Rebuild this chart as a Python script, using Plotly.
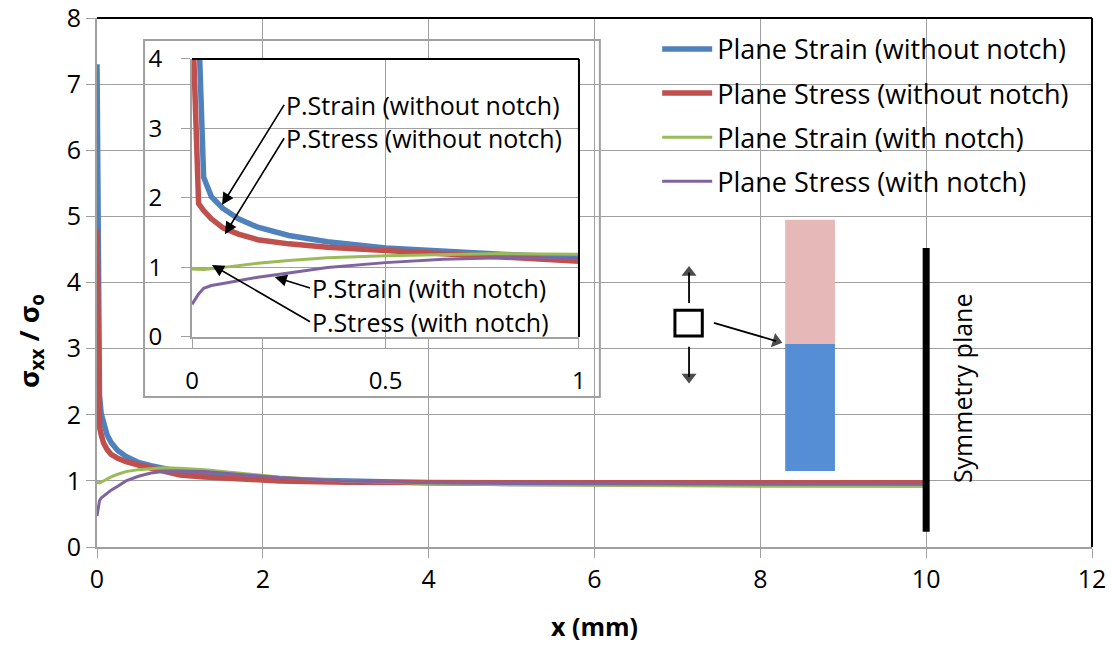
import plotly.graph_objects as go

# ---- data ----
x_mm = [0, 0.017, 0.03, 0.05, 0.08, 0.12, 0.17, 0.25, 0.35, 0.5, 0.65, 0.8,
        1.0, 1.3, 1.7, 2.2, 3, 4, 5, 6.5, 8, 10]
strain_no_notch = [7.3, 4.5, 2.3, 2.02, 1.85, 1.70, 1.58, 1.46, 1.37, 1.28, 1.23, 1.19,
                   1.14, 1.10, 1.05, 1.02, 0.99, 0.97, 0.96, 0.95, 0.94, 0.94]
stress_no_notch = [4.8, 1.92, 1.82, 1.70, 1.57, 1.48, 1.40, 1.34, 1.29, 1.24, 1.20, 1.15,
                   1.09, 1.06, 1.03, 1.00, 0.98, 0.97, 0.97, 0.97, 0.97, 0.97]
strain_notch = [0.98, 0.97, 0.97, 0.98, 1.00, 1.03, 1.06, 1.10, 1.14, 1.17, 1.19, 1.20,
                1.19, 1.17, 1.12, 1.06, 1.00, 0.96, 0.94, 0.93, 0.92, 0.92]
stress_notch = [0.47, 0.62, 0.70, 0.74, 0.77, 0.81, 0.86, 0.92, 1.00, 1.07, 1.12, 1.14,
                1.15, 1.14, 1.10, 1.05, 1.00, 0.97, 0.96, 0.95, 0.95, 0.95]

series_names = ["Plane Strain (without notch)", "Plane Stress (without notch)",
                "Plane Strain (with notch)", "Plane Stress (with notch)"]
series_values = [strain_no_notch, stress_no_notch, strain_notch, stress_notch]
series_colors = ["#4F81BD", "#C0504D", "#9BBB59", "#8064A2"]
series_widths = [5.5, 5.5, 3, 3]

inset_labels = ["P.Strain (without notch)", "P.Stress (without notch)",
                "P.Strain (with notch)", "P.Stress (with notch)"]

x_ticks = [0, 2, 4, 6, 8, 10, 12]
y_ticks = [0, 1, 2, 3, 4, 5, 6, 7, 8]
inset_x_ticks = [0, 0.5, 1]
inset_y_ticks = [0, 1, 2, 3, 4]

FONT = "Open Sans"
GRID = "#A0A0A0"

fig = go.Figure()
for name, vals, col, w in zip(series_names, series_values, series_colors, series_widths):
    fig.add_trace(go.Scatter(x=x_mm, y=vals, mode="lines", name=name,
                             line=dict(color=col, width=w), legendgroup=name))
for name, vals, col, w in zip(series_names, series_values, series_colors, series_widths):
    fig.add_trace(go.Scatter(x=x_mm, y=vals, mode="lines", name=name, showlegend=False,
                             line=dict(color=col, width=w), xaxis="x2", yaxis="y2"))

# diagram arrows (decoration): line with a triangular head at the end
for (tx, ty), (hx, hy) in [((7.14, 3.69), (7.14, 4.15)),
                           ((7.14, 3.03), (7.14, 2.57)),
                           ((7.44, 3.39), (8.19, 3.115))]:
    fig.add_trace(go.Scatter(x=[tx, hx], y=[ty, hy], mode="lines+markers",
                             showlegend=False, hoverinfo="skip",
                             line=dict(color="black", width=1.8),
                             marker=dict(symbol="triangle-up", angleref="previous",
                                         size=[0, 13], color="black",
                                         line=dict(width=0))))

axis_common = dict(showgrid=True, gridcolor=GRID, gridwidth=1.3, showline=True,
                   linecolor=GRID, linewidth=2, ticks="outside", ticklen=9,
                   tickcolor=GRID, tickwidth=1.3, zeroline=False, automargin=False,
                   ticklabeloverflow="allow",
                   tickfont=dict(family=FONT, size=25, color="black"))
inset_common = {**axis_common, "tickfont": dict(family=FONT, size=24, color="black")}

fig.update_layout(
    width=1111, height=645,
    margin=dict(l=97, r=19, t=18, b=98),
    paper_bgcolor="white", plot_bgcolor="white",
    font=dict(family=FONT, color="black"),
    xaxis=dict(range=[0, 12], tickvals=x_ticks, domain=[0, 1], **axis_common,
               title=dict(text="<b>x (mm)</b>", font=dict(size=25), standoff=24)),
    yaxis=dict(range=[0, 8], tickvals=y_ticks, domain=[0, 1], **axis_common),
    xaxis2=dict(range=[0, 1], tickvals=inset_x_ticks, domain=[0.0955, 0.4844],
                anchor="y2", ticklabelstandoff=12, **inset_common),
    yaxis2=dict(range=[0, 4], tickvals=inset_y_ticks, domain=[0.397, 0.9225],
                anchor="x2", ticklabelstandoff=14, **inset_common),
    legend=dict(x=0.563, y=0.987, xanchor="left", yanchor="top",
                bgcolor="rgba(0,0,0,0)", font=dict(family=FONT, size=27),
                tracegroupgap=6, itemwidth=50),
    showlegend=True,
)

shapes = [
    # main plot border top/right (black)
    dict(type="line", xref="x domain", yref="y domain", x0=0, x1=1, y0=1, y1=1,
         line=dict(color="black", width=2), layer="above"),
    dict(type="line", xref="x domain", yref="y domain", x0=1, x1=1, y0=0, y1=1,
         line=dict(color="black", width=2), layer="above"),
    # inset frame
    dict(type="rect", xref="x2 domain", yref="y2 domain", x0=-0.124, x1=1.054,
         y0=-0.216, y1=1.068, fillcolor="white", line=dict(color=GRID, width=2),
         layer="below"),
    dict(type="line", xref="x2 domain", yref="y2 domain", x0=0, x1=1, y0=1, y1=1,
         line=dict(color="black", width=2), layer="above"),
    dict(type="line", xref="x2 domain", yref="y2 domain", x0=1, x1=1, y0=0, y1=1,
         line=dict(color="black", width=2), layer="above"),
    # diagram
    dict(type="rect", xref="x", yref="y", x0=8.30, x1=8.90, y0=3.07, y1=4.95,
         fillcolor="#E6B8B7", line=dict(width=0), layer="above"),
    dict(type="rect", xref="x", yref="y", x0=8.30, x1=8.90, y0=1.15, y1=3.07,
         fillcolor="#558ED5", line=dict(width=0), layer="above"),
    dict(type="line", xref="x", yref="y", x0=10, x1=10, y0=0.23, y1=4.52,
         line=dict(color="black", width=7), layer="above"),
    dict(type="rect", xref="x", yref="y", x0=6.97, x1=7.30, y0=3.19, y1=3.58,
         fillcolor="white", line=dict(color="black", width=3), layer="above"),
]
fig.update_layout(shapes=shapes)

ann = []
# y axis title
ann.append(dict(text="<b>σ<sub>xx</sub> / σ<sub>o</sub></b>", xref="paper", yref="paper",
                x=-0.067, y=0.39, textangle=-90, showarrow=False,
                font=dict(family=FONT, size=27), xanchor="center", yanchor="middle"))
# inset labels with arrows: (head x, head y, text-left x, text y)
for txt, (hx, hy, tx, ty) in zip(inset_labels, [(0.0775, 1.90, 0.238, 3.34),
                                                 (0.085, 1.48, 0.238, 2.86),
                                                 (0.214, 0.863, 0.305, 0.705),
                                                 (0.0517, 1.036, 0.305, 0.22)]):
    ann.append(dict(text=txt, xref="x2", yref="y2", x=hx, y=hy, axref="x2", ayref="y2",
                    ax=tx, ay=ty, xanchor="left", yanchor="middle", showarrow=True,
                    arrowhead=2, arrowsize=1.5, arrowwidth=1.6, arrowcolor="black",
                    font=dict(family=FONT, size=25)))
ann.append(dict(text="Symmetry plane", xref="x", yref="y", x=10.43, y=2.4,
                textangle=-90, showarrow=False, font=dict(family=FONT, size=25)))
fig.update_layout(annotations=ann)

# the page's default body margin would shift the figure by 8 px
fig.write_html("out.html", config={"displayModeBar": False},
               post_script="document.body.style.margin='0';")
